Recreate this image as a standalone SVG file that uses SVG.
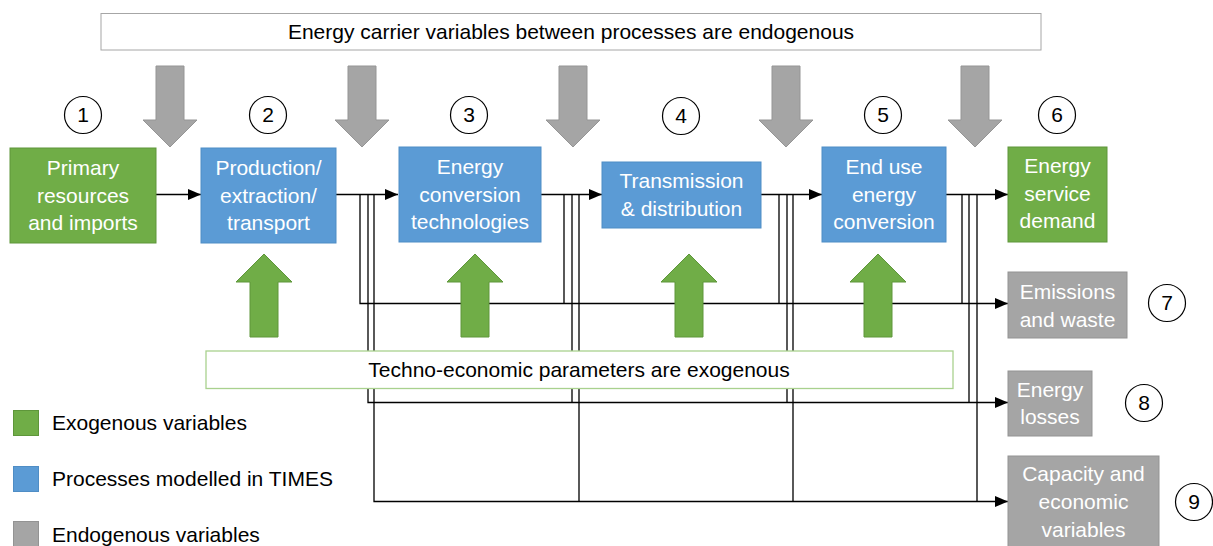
<svg xmlns="http://www.w3.org/2000/svg" width="1213" height="546" viewBox="0 0 1213 546">
<style>
text{font-family:"Liberation Sans",Arial,sans-serif;font-size:21px}
.w{fill:#fff;text-anchor:middle}
.k{fill:#000}
.c{fill:#000;text-anchor:middle}
.green{fill:#70AD47;stroke:#5E963A;stroke-width:1}
.blue{fill:#5B9BD5;stroke:#4F8DC5;stroke-width:1}
.gray{fill:#A5A5A5;stroke:#939393;stroke-width:1}
.garrow{fill:#A5A5A5;stroke:#959595;stroke-width:1}
.uarrow{fill:#70AD47;stroke:#5E963A;stroke-width:1}
.num{fill:#fff;stroke:#000;stroke-width:1.2}
.ln{fill:none;stroke:#000;stroke-width:1.3}
</style>
<defs>
<marker id="ah" markerUnits="userSpaceOnUse" markerWidth="13" markerHeight="12" refX="13" refY="6" orient="auto">
<path d="M0,0.5 L13,6 L0,11.5 z" fill="#000"/>
</marker>
</defs>
<rect width="1213" height="546" fill="#fff"/>

<g id="banner-top">
<rect x="101" y="13.5" width="940" height="36.5" fill="#fff" stroke="#A6A6A6" stroke-width="1"/>
<text class="c" x="571" y="39">Energy carrier variables between processes are endogenous</text>
</g>

<g id="endogenous-arrows">
<polygon class="garrow" points="156,66 184,66 184,120 197,120 170,147 143,120 156,120"/>
<polygon class="garrow" points="348,66 376,66 376,120 389,120 362,147 335,120 348,120"/>
<polygon class="garrow" points="559,66 587,66 587,120 600,120 573,147 546,120 559,120"/>
<polygon class="garrow" points="772,66 800,66 800,120 813,120 786,147 759,120 772,120"/>
<polygon class="garrow" points="961,66 989,66 989,120 1002,120 975,147 948,120 961,120"/>
</g>

<g id="numbers">
<circle class="num" cx="83" cy="115" r="18.5"/><text class="c" x="83" y="122">1</text>
<circle class="num" cx="268" cy="115" r="18.5"/><text class="c" x="268" y="122">2</text>
<circle class="num" cx="469" cy="115" r="18.5"/><text class="c" x="469" y="122">3</text>
<circle class="num" cx="681" cy="116" r="18.5"/><text class="c" x="681" y="123">4</text>
<circle class="num" cx="883" cy="115" r="18.5"/><text class="c" x="883" y="122">5</text>
<circle class="num" cx="1057" cy="115" r="18.5"/><text class="c" x="1057" y="122">6</text>
<circle class="num" cx="1167" cy="303" r="18.5"/><text class="c" x="1167" y="310">7</text>
<circle class="num" cx="1144" cy="403" r="18.5"/><text class="c" x="1144" y="410">8</text>
<circle class="num" cx="1194" cy="502" r="18.5"/><text class="c" x="1194" y="509">9</text>
</g>

<g id="connectors">
<line class="ln" x1="156" y1="194.5" x2="201" y2="194.5" marker-end="url(#ah)"/>
<line class="ln" x1="336" y1="194.5" x2="398" y2="194.5" marker-end="url(#ah)"/>
<line class="ln" x1="541" y1="194.5" x2="602" y2="194.5" marker-end="url(#ah)"/>
<line class="ln" x1="761" y1="194.5" x2="822" y2="194.5" marker-end="url(#ah)"/>
<line class="ln" x1="946" y1="194.5" x2="1008" y2="194.5" marker-end="url(#ah)"/>
<path class="ln" d="M360,194.5 V303.5 H1008" marker-end="url(#ah)"/>
<path class="ln" d="M368,194.5 V402.5 H1008" marker-end="url(#ah)"/>
<path class="ln" d="M374,194.5 V501.5 H1008" marker-end="url(#ah)"/>
<path class="ln" d="M564,194.5 V303.5 M572,194.5 V402.5 M579,194.5 V501.5"/>
<path class="ln" d="M779,194.5 V303.5 M787,194.5 V402.5 M793,194.5 V501.5"/>
<path class="ln" d="M962,194.5 V303.5 M969,194.5 V402.5 M977,194.5 V501.5"/>
</g>

<g id="exogenous-arrows">
<polygon class="uarrow" points="250,337 278,337 278,282 292,282 264,254 236,282 250,282"/>
<polygon class="uarrow" points="461,337 489,337 489,282 503,282 475,254 447,282 461,282"/>
<polygon class="uarrow" points="675,337 703,337 703,282 717,282 689,254 661,282 675,282"/>
<polygon class="uarrow" points="864,337 892,337 892,282 906,282 878,254 850,282 864,282"/>
</g>

<g id="banner-bottom">
<rect x="206" y="351" width="747" height="37.5" fill="#fff" stroke="#A9D18E" stroke-width="1.3"/>
<text class="c" x="579" y="377">Techno-economic parameters are exogenous</text>
</g>

<g id="primary">
<rect class="green" x="10" y="148" width="146" height="95"/>
<text class="w" x="83" y="175">Primary</text>
<text class="w" x="83" y="202.5">resources</text>
<text class="w" x="83" y="230">and imports</text>
</g>
<g id="production">
<rect class="blue" x="201" y="148" width="135" height="95"/>
<text class="w" x="268.5" y="175">Production/</text>
<text class="w" x="268.5" y="202.5">extraction/</text>
<text class="w" x="268.5" y="230">transport</text>
</g>
<g id="conversion">
<rect class="blue" x="399" y="147" width="142" height="95"/>
<text class="w" x="470" y="174">Energy</text>
<text class="w" x="470" y="202">conversion</text>
<text class="w" x="470" y="229">technologies</text>
</g>
<g id="transmission">
<rect class="blue" x="602" y="162" width="159" height="66"/>
<text class="w" x="681.5" y="188">Transmission</text>
<text class="w" x="681.5" y="216">&amp; distribution</text>
</g>
<g id="enduse">
<rect class="blue" x="822" y="147" width="124" height="95"/>
<text class="w" x="884" y="174">End use</text>
<text class="w" x="884" y="202">energy</text>
<text class="w" x="884" y="229">conversion</text>
</g>
<g id="demand">
<rect class="green" x="1008" y="147" width="99" height="95"/>
<text class="w" x="1057.5" y="173">Energy</text>
<text class="w" x="1057.5" y="200.5">service</text>
<text class="w" x="1057.5" y="228">demand</text>
</g>
<g id="emissions">
<rect class="gray" x="1008" y="272" width="119" height="66"/>
<text class="w" x="1067.5" y="299">Emissions</text>
<text class="w" x="1067.5" y="327">and waste</text>
</g>
<g id="losses">
<rect class="gray" x="1008" y="371" width="84" height="65"/>
<text class="w" x="1050" y="397">Energy</text>
<text class="w" x="1050" y="424">losses</text>
</g>
<g id="capacity">
<rect class="gray" x="1008" y="456" width="151" height="100"/>
<text class="w" x="1083.5" y="481">Capacity and</text>
<text class="w" x="1083.5" y="509">economic</text>
<text class="w" x="1083.5" y="537">variables</text>
</g>

<g id="legend">
<rect class="green" x="13.5" y="410.5" width="25" height="25"/>
<text class="k" x="52" y="430">Exogenous variables</text>
<rect class="blue" x="13.5" y="466.5" width="25" height="25"/>
<text class="k" x="52" y="486">Processes modelled in TIMES</text>
<rect class="gray" x="13.5" y="521.5" width="25" height="30"/>
<text class="k" x="52" y="542">Endogenous variables</text>
</g>
</svg>
